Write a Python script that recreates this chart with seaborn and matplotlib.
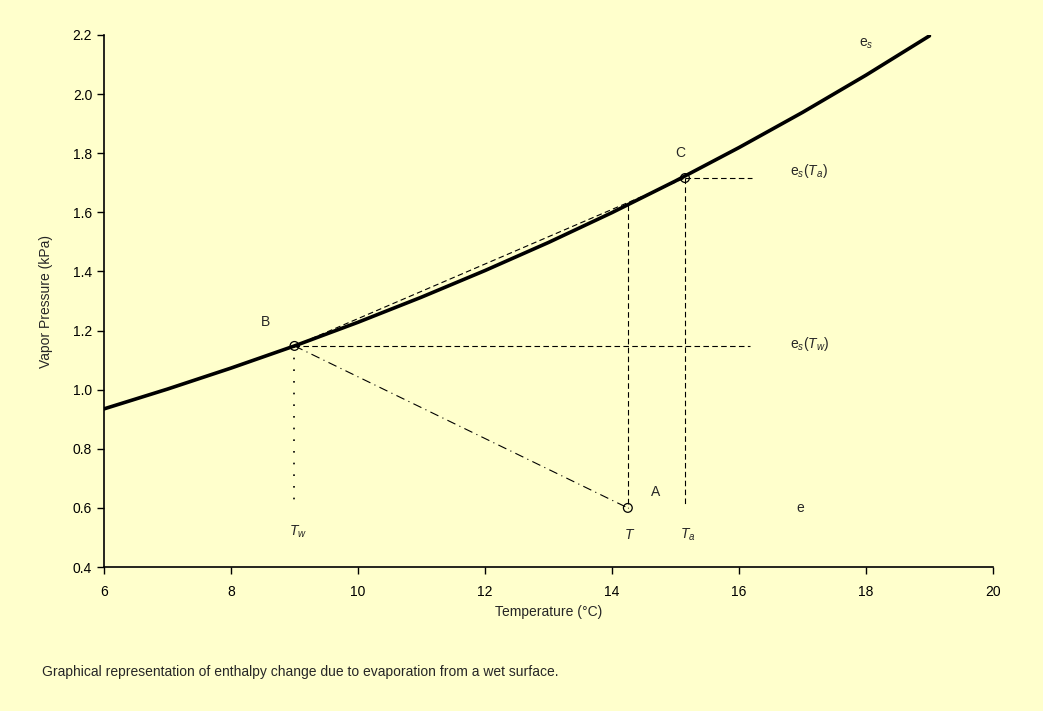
import numpy as np
import pandas as pd
import matplotlib
matplotlib.use("Agg")
import matplotlib.pyplot as plt
import seaborn as sns

# saturation vapour pressure curve
temp = [6, 7, 8, 9, 10, 11, 12, 13, 14, 15, 16, 17, 18, 19]
es = [0.935, 1.002, 1.073, 1.148, 1.228, 1.313, 1.403, 1.498, 1.599, 1.706, 1.819, 1.938, 2.064, 2.197]

# marked points
pt_names = ["B", "C", "A"]
pt_x = [9.0, 15.15, 14.25]
pt_y = [1.148, 1.716, 0.60]

xticks = [6, 8, 10, 12, 14, 16, 18, 20]
yticks = [0.4, 0.6, 0.8, 1.0, 1.2, 1.4, 1.6, 1.8, 2.0, 2.2]

bg = "#FFFFCC"
sns.set_style("ticks", {"axes.facecolor": bg, "figure.facecolor": bg})
plt.rcParams["font.family"] = ["Liberation Sans", "DejaVu Sans"]
plt.rcParams["mathtext.fontset"] = "custom"
plt.rcParams["mathtext.it"] = "Liberation Sans:italic"
plt.rcParams["mathtext.rm"] = "Liberation Sans"

fig = plt.figure(figsize=(10.43, 7.11), dpi=100)
ax = fig.add_axes([0.0997, 0.2025, 0.8523, 0.7483])

df = pd.DataFrame({"T": temp, "es": es})
sns.lineplot(data=df, x="T", y="es", color="black", lw=2.6, ax=ax)

Bx, Cx, Ax = pt_x
By, Cy, Ay = pt_y
k = 0.8
# chord B-C
ax.plot([Bx, Cx], [By, Cy], color="black", lw=k, ls=(0, (5, 3)))
# horizontal lines to e_s labels
ax.plot([Bx, 16.17], [By, By], color="black", lw=k, ls=(0, (5, 3)))
ax.plot([Cx, 16.2], [Cy, Cy], color="black", lw=k, ls=(0, (5, 3)))
# verticals
ax.plot([Cx, Cx], [Cy, 0.61], color="black", lw=k, ls=(0, (5, 3)))
ax.plot([Ax, Ax], [np.interp(Ax, temp, es), Ay], color="black", lw=k, ls=(0, (5, 3)))
ax.plot([Bx, Bx], [By, 0.62], color="black", lw=1.2, ls=(0, (1, 6)))
# B to A
ax.plot([Bx, Ax], [By, Ay], color="black", lw=k, ls=(0, (8, 4, 1, 4)))

ax.scatter(pt_x, pt_y, s=40, facecolors="none", edgecolors="black", lw=0.9, zorder=5)

fs = 10
ax.text(8.54, 1.23, "B", fontsize=fs, ha="center", va="center")
ax.text(15.07, 1.80, "C", fontsize=fs, ha="center", va="center")
ax.text(14.68, 0.655, "A", fontsize=fs, ha="center", va="center")
ax.text(16.96, 0.60, "e", fontsize=fs, ha="center", va="center")
ax.text(14.28, 0.51, "$T$", fontsize=fs, ha="center", va="center")
ax.text(15.2, 0.51, "$T_a$", fontsize=fs, ha="center", va="center")
ax.text(9.05, 0.52, "$T_w$", fontsize=fs, ha="center", va="center")
ax.text(16.8, 1.74, r"$\mathrm{e}_s(T_a)$", fontsize=fs, ha="left", va="center")
ax.text(16.8, 1.155, r"$\mathrm{e}_s(T_w)$", fontsize=fs, ha="left", va="center")
ax.text(18.0, 2.17, r"$\mathrm{e}_s$", fontsize=fs, ha="center", va="center")

ax.set_xlim(6, 20)
ax.set_ylim(0.4, 2.2)
ax.set_xticks(xticks)
ax.set_yticks(yticks)
ax.set_yticklabels([f"{v:.1f}" for v in yticks])
ax.tick_params(labelsize=fs, length=5, width=1, direction="out", colors="black")
ax.tick_params(axis="x", pad=8)
ax.set_xlabel("Temperature (°C)", fontsize=fs, labelpad=4)
ax.set_ylabel("Vapor Pressure (kPa)", fontsize=fs, labelpad=14)
sns.despine(ax=ax)
for s in ["left", "bottom"]:
    ax.spines[s].set_linewidth(1.2)
    ax.spines[s].set_color("black")

fig.text(0.04, 0.055, "Graphical representation of enthalpy change due to evaporation from a wet surface.",
         fontsize=fs, ha="left", va="center")

fig.savefig("out.png", dpi=100, facecolor=bg)
